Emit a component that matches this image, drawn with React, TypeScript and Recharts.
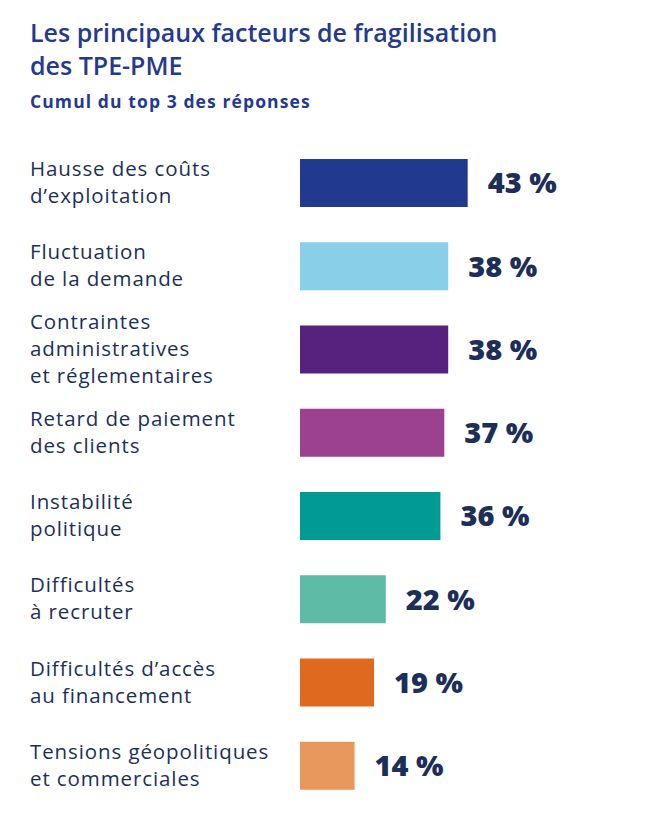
import { BarChart, Bar, XAxis, YAxis, Cell, LabelList } from 'recharts';

const categories = [
	'Hausse des coûts\nd’exploitation',
	'Fluctuation\nde la demande',
	'Contraintes\nadministratives\net réglementaires',
	'Retard de paiement\ndes clients',
	'Instabilité\npolitique',
	'Difficultés\nà recruter',
	'Difficultés d’accès\nau financement',
	'Tensions géopolitiques\net commerciales',
];
const shares = [43, 38, 38, 37, 36, 22, 19, 14];
const barColors = ['#213a8f', '#89cfe8', '#56227e', '#9b418f', '#009b92', '#5ebba5', '#df6a1f', '#e8985c'];

const title = ['Les principaux facteurs de fragilisation', 'des TPE-PME'];
const subtitle = 'Cumul du top 3 des réponses';

const data = categories.map((category, i) => ({category, share: shares[i]}));

const FONT = '"Open Sans", sans-serif';
const NAVY = '#1d2f58';

function CategoryTick({y, payload}: any) {
	const lines = String(payload.value).split('\n');
	const lineHeight = 27;
	const first = y - ((lines.length - 1) * lineHeight) / 2 + 7;
	return (
		<text fill={NAVY} fontSize={20.5} fontFamily={FONT} letterSpacing={0.9} textAnchor="start">
			{lines.map((line, i) => (
				<tspan key={i} x={30} y={first + i * lineHeight}>{line}</tspan>
			))}
		</text>
	);
}

export default function App() {
	return (
		<div style={{position: 'absolute', left: 0, top: 0, width: 652, height: 823, background: '#fff'}}>
			<svg width={652} height={130} style={{position: 'absolute', left: 0, top: 0}}>
				<text x={30} y={42} fill="#24398f" fontSize={25} fontWeight={600} fontFamily={FONT}>{title[0]}</text>
				<text x={30} y={75} fill="#24398f" fontSize={25} fontWeight={600} fontFamily={FONT}>{title[1]}</text>
				<text x={30} y={108} fill="#24398f" fontSize={17.5} fontWeight={700} fontFamily={FONT} letterSpacing={1.1}>{subtitle}</text>
			</svg>
			<div style={{position: 'absolute', left: 0, top: 0}}>
				<BarChart
					width={652}
					height={823}
					data={data}
					layout="vertical"
					margin={{top: 141, right: 157, bottom: 16, left: 0}}
				>
					<XAxis type="number" hide domain={[0, 50]}/>
					<YAxis
						type="category"
						dataKey="category"
						width={300}
						axisLine={false}
						tickLine={false}
						interval={0}
						tick={<CategoryTick/>}
					/>
					<Bar dataKey="share" barSize={48} isAnimationActive={false}>
						{data.map((d, i) => (
							<Cell key={d.category} fill={barColors[i]}/>
						))}
						<LabelList
							dataKey="share"
							position="right"
							offset={20}
							formatter={(v: any) => `${v} %`}
							fill={NAVY}
							fontSize={29}
							fontWeight={800}
							fontFamily={FONT}
							letterSpacing={0}
						/>
					</Bar>
				</BarChart>
			</div>
		</div>
	);
}
